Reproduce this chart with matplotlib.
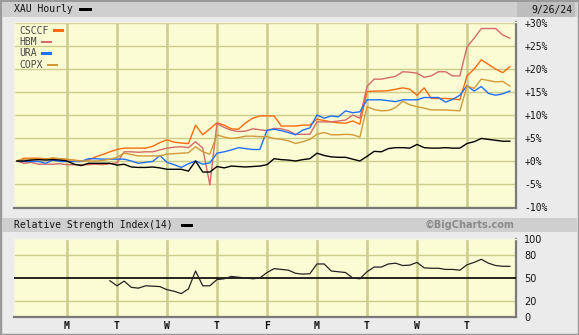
import matplotlib
matplotlib.use("Agg")
import matplotlib.pyplot as plt
import numpy as np
from matplotlib.patches import Rectangle

# ---------------- data (hourly, 7 bars per trading day, 10 days) ----------------
day_labels = ["M", "T", "W", "T", "F", "M", "T", "W", "T"]
pct_ticks = [30, 25, 20, 15, 10, 5, 0, -5, -10]
rsi_ticks = [100, 80, 50, 20, 0]

xau = [0, 0, 0.2, 0.3, 0.2, 0.3, 0.2,
       0, -0.7, -1.0, -0.5, -0.5, -0.5, -0.5,
       -0.9, -0.7, -1.3, -1.4, -1.4, -1.3, -1.5,
       -1.8, -1.8, -1.8, -2.2, 0.0, -2.4, -2.4,
       -1.2, -1.5, -1.1, -1.2, -1.3, -1.2, -1.1,
       -0.8, 0.5, 0.3, 0.2, 0.0, 0.3, 0.5,
       1.7, 1.2, 0.9, 0.8, 0.8, 0.4, 0.0,
       1.0, 2.1, 2.0, 2.7, 2.9, 2.9, 2.8,
       3.6, 2.9, 2.8, 2.8, 2.9, 2.8, 2.8,
       3.8, 4.2, 4.9, 4.7, 4.5, 4.3, 4.3]

csccf = [0, 0.6, 0.6, 0.6, 0.5, 0.5, 0.5,
         0.3, 0.2, 0.0, 0.2, 0.9, 1.4, 2.0,
         2.5, 2.8, 2.8, 2.8, 2.8, 3.2, 4.0,
         4.6, 4.1, 3.9, 3.8, 7.8, 5.7, 7.0,
         8.3, 7.8, 7.0, 6.9, 8.3, 9.3, 9.8,
         9.8, 9.8, 7.6, 7.6, 7.6, 7.8, 7.8,
         9.1, 8.8, 8.5, 8.3, 8.2, 8.7, 8.0,
         15.1, 15.2, 15.2, 15.3, 15.6, 15.9, 15.6,
         14.3, 15.9, 13.6, 13.6, 13.6, 13.5, 13.3,
         18.5, 20.0, 22.0, 21.0, 20.0, 19.2, 20.5]

hbm = [0, -0.5, -0.3, -0.7, -0.7, -0.7, -0.6,
       -0.8, -0.8, -0.8, -0.8, -0.7, -0.8, -0.6,
       -0.4, 2.0, 2.0, 1.9, 2.0, 2.0, 2.4,
       2.8, 3.0, 3.1, 2.9, 4.2, 2.8, -5.2,
       8.2, 7.3, 6.7, 6.4, 6.5, 7.0, 6.8,
       6.6, 7.1, 7.0, 6.6, 5.8, 5.8, 5.8,
       8.5, 8.5, 8.5, 8.7, 8.9, 10.0, 9.3,
       16.2, 17.8, 17.8, 18.1, 18.4, 19.4, 19.3,
       19.1, 18.2, 18.5, 19.4, 19.4, 18.5, 18.5,
       24.8, 26.7, 28.8, 28.8, 28.8, 27.4, 26.7]

ura = [0, -0.1, -0.1, -0.1, -0.5, 0.2, -0.1,
       -0.1, -0.1, -0.1, 0.5, 0.5, 0.4, 0.4,
       0.4, 0.4, 0.0, -0.5, -0.3, -0.1, 1.2,
       -0.3, -0.8, -1.4, -0.6, 0.0, -0.7, -0.4,
       1.7, 2.0, 2.4, 2.9, 2.7, 2.5, 2.5,
       6.7, 6.9, 6.6, 6.2, 5.7, 6.7, 7.2,
       10.0, 9.3, 9.8, 9.6, 10.9, 10.5, 10.7,
       13.3, 13.3, 13.3, 13.1, 12.9, 13.3, 13.3,
       13.3, 13.8, 13.8, 13.8, 12.8, 13.4, 14.3,
       16.4, 15.2, 16.2, 14.7, 14.3, 14.6, 15.2]

copx = [0, 0.4, 0.4, 0.4, 0.4, 0.7, 0.5,
        0.4, 0.1, 0.0, 0.0, 0.0, 0.1, 0.4,
        0.8, 1.7, 1.4, 1.1, 1.1, 1.1, 1.1,
        1.5, 1.6, 1.7, 1.8, 3.1, 2.0, 1.5,
        5.7, 5.2, 4.9, 5.1, 5.4, 5.4, 5.3,
        5.3, 4.9, 4.7, 4.4, 3.8, 4.2, 4.7,
        5.8, 6.2, 5.7, 5.7, 5.8, 5.7, 5.2,
        11.8, 11.2, 10.9, 11.0, 11.6, 13.0, 12.2,
        11.8, 11.5, 11.1, 11.1, 11.1, 11.0, 10.9,
        16.3, 15.8, 17.8, 17.5, 17.2, 17.3, 16.3]

rsi = [np.nan] * 13 + [46.5,
       40, 46, 38, 37, 40, 39.5, 39,
       35, 33, 30, 36, 59, 40, 40,
       48, 49, 52, 51, 50, 49, 50,
       57, 62, 61, 60, 56, 55, 55.5,
       68, 68, 59, 58, 57, 50, 49,
       58, 64, 64, 68, 69, 66, 66.5,
       70, 63, 62.5, 62.5, 61, 61, 60,
       67, 70, 74, 69, 66, 65, 65]

series = [("CSCCF", csccf, "#ff6a0f"), ("HBM", hbm, "#d46a6a"),
          ("URA", ura, "#1f6fff"), ("COPX", copx, "#d09a3a")]

# ---------------- figure ----------------
W, H = 579, 335
fig = plt.figure(figsize=(W / 100, H / 100), dpi=100)
fig.patch.set_facecolor("#ebebeb")
MONO = "DejaVu Sans Mono"

def fx(px):
    return px / W

def fy(py):
    return 1 - py / H

# outer border
fig.patches.append(Rectangle((0, 0), 1, 1, transform=fig.transFigure,
                             fill=False, edgecolor="#9a9a9a", lw=2.5))
# header bars
fig.patches.append(Rectangle((fx(2), fy(17)), fx(575), 15 / H, transform=fig.transFigure,
                             facecolor="#cfcfcf", edgecolor="none"))
fig.patches.append(Rectangle((fx(517), fy(17)), fx(58), 15 / H, transform=fig.transFigure,
                             facecolor="#bdbdbd", edgecolor="none"))
fig.patches.append(Rectangle((fx(2), fy(232)), fx(575), 14 / H, transform=fig.transFigure,
                             facecolor="#cfcfcf", edgecolor="none"))

fig.text(fx(14), fy(9.5), "XAU Hourly", family=MONO, fontsize=7, va="center", color="#111111")
fig.patches.append(Rectangle((fx(79), fy(11)), fx(13), 3 / H, transform=fig.transFigure,
                             facecolor="black", edgecolor="none"))
fig.text(fx(572), fy(9.5), "9/26/24", family=MONO, fontsize=7, va="center", ha="right",
         color="#111111")
fig.text(fx(14), fy(225), "Relative Strength Index(14)", family=MONO, fontsize=7,
         va="center", color="#111111")
fig.patches.append(Rectangle((fx(181), fy(226.5)), fx(12), 3 / H, transform=fig.transFigure,
                             facecolor="black", edgecolor="none"))
fig.text(fx(515), fy(225), "\u00a9BigCharts.com", family="DejaVu Sans", fontsize=7,
         fontweight="bold", va="center", ha="right", color="#8a8a8a")

n = len(xau)
x = np.array([d + k / 7 for d in range(10) for k in range(7)])[:n]

BG = "#fcfcd4"
GRID = "#cccc8c"

def style_axes(ax):
    ax.set_facecolor(BG)
    for s in ["top", "left"]:
        ax.spines[s].set_color("#f4f4e4")
        ax.spines[s].set_linewidth(1)
    for s in ["bottom", "right"]:
        ax.spines[s].set_color("#7a7a7a")
        ax.spines[s].set_linewidth(1.6)
    ax.set_xlim(-0.06, 9.98)
    ax.set_xticks(range(1, 10))
    for v in range(1, 10):
        ax.axvline(v, color=GRID, lw=1.8, zorder=1)
    ax.tick_params(length=0)

# main axes
ax = fig.add_axes([fx(14), fy(208), fx(502), 186 / H])
style_axes(ax)
ax.set_ylim((161 - 208) * 5 / 23, (161 - 22) * 5 / 23)
for t in pct_ticks:
    ax.axhline(t, color=GRID, lw=1.0, zorder=1)
ax.set_xticklabels([])
ax.yaxis.tick_right()
ax.set_yticks(pct_ticks)
ax.set_yticklabels([("+" if t >= 0 else "") + f"{t}%" for t in pct_ticks],
                   family=MONO, fontsize=7, color="#111111")
ax.tick_params(axis="y", pad=6)
ax.plot(x, xau, color="black", lw=1.0, zorder=5)
for name, vals, col in series:
    ax.plot(x, vals, color=col, lw=1.0, zorder=4)

# legend as text
for i, (name, vals, col) in enumerate(series):
    yy = 30.5 + i * 11.5
    ax.text(0.011, 1 - (yy - 22) / 186, name, transform=ax.transAxes,
            family=MONO, fontsize=7, color="#444444", va="center")
    swx = {0: 53, 1: 41, 2: 41, 3: 47}[i]
    ax.add_patch(Rectangle(((swx - 14) / 502, 1 - (yy - 22 + 1.2) / 186), 11 / 502, 2.5 / 186,
                           transform=ax.transAxes, facecolor=col, edgecolor="none",
                           zorder=6))

# RSI axes
ax2 = fig.add_axes([fx(14), fy(317), fx(502), 78 / H])
style_axes(ax2)
ax2.set_ylim(0, 100)
for t in [20, 80]:
    ax2.axhline(t, color=GRID, lw=1.0, zorder=1)
ax2.axhline(50, color="black", lw=1.2, zorder=3)
ax2.plot(x, rsi, color="#222222", lw=0.9, zorder=5)
ax2.yaxis.tick_right()
ax2.set_yticks(rsi_ticks)
ax2.set_yticklabels([str(t) for t in rsi_ticks], family="DejaVu Sans", fontsize=7,
                    color="#111111")
ax2.tick_params(axis="y", pad=6)
ax2.set_xticklabels(day_labels, family=MONO, fontsize=7, fontweight="bold", color="#111111")
ax2.tick_params(axis="x", pad=3)

fig.savefig("out.png", dpi=100, facecolor=fig.get_facecolor())
